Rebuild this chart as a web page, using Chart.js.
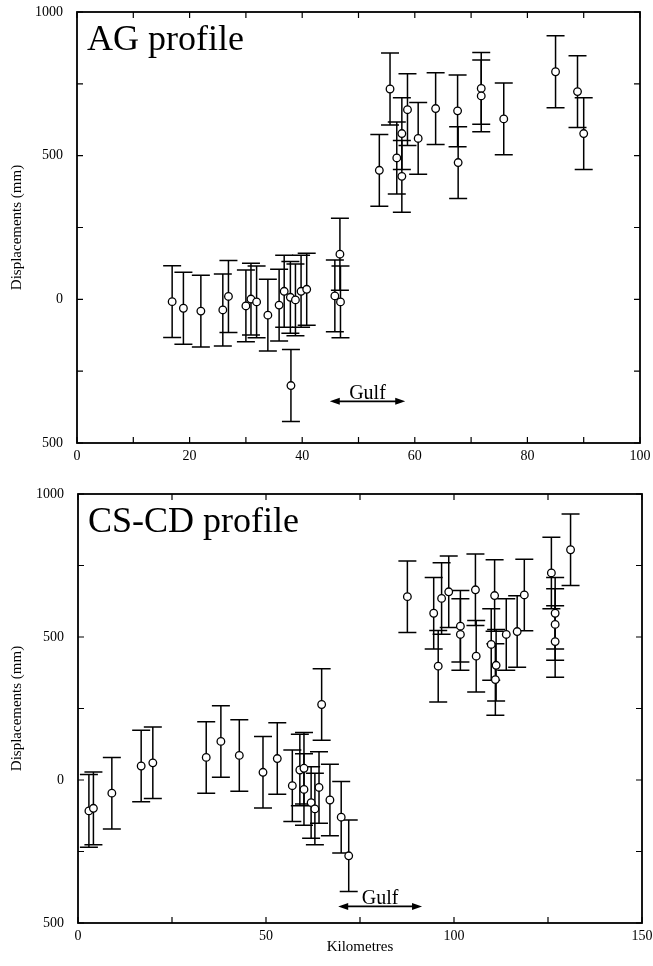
<!DOCTYPE html>
<html>
<head>
<meta charset="utf-8">
<script src="https://cdn.jsdelivr.net/npm/chart.js@4"></script>
<style>
  body { margin: 0; background: #fff; }
  #wrap { position: relative; width: 653px; height: 966px; }
  canvas { position: absolute; left: 0; }
  #agChart { top: 0; }
  #csChart { top: 480px; }
</style>
</head>
<body>
<div id="wrap">
  <canvas id="agChart" width="653" height="475"></canvas>
  <canvas id="csChart" width="653" height="486"></canvas>
</div>
<script>
// AG profile: distance (km), displacement (mm), error (mm)
const agKm = [16.9, 18.9, 22.0, 25.9, 26.9, 30.0, 30.9, 31.9, 33.9, 35.9,
  36.8, 37.9, 38.0, 38.8, 39.8, 40.8, 45.8, 46.8, 46.7, 53.7,
  55.6, 56.8, 57.7, 57.7, 58.7, 60.6, 63.7, 67.6, 67.7, 71.8,
  71.8, 75.8, 85.0, 88.9, 90.0];
const agDisp = [-8, -31, -41, -37, 10, -23, 1, -9, -55, -20,
  28, 7, -300, -2, 28, 35, 12, -9, 157, 449,
  732, 492, 577, 428, 660, 560, 664, 656, 476, 734,
  708, 628, 792, 723, 577];
const agErr = [125, 125, 125, 125, 125, 125, 125, 125, 125, 125,
  125, 125, 125, 125, 125, 125, 125, 125, 125, 125,
  125, 125, 125, 125, 125, 125, 125, 125, 125, 125,
  125, 125, 125, 125, 125];

// CS-CD profile
const csKm = [2.9, 4.1, 9.0, 16.8, 19.9, 34.1, 38.0, 42.9, 49.2, 53.0,
  57.0, 59.0, 60.1, 60.1, 62.0, 63.0, 64.1, 64.8, 67.0, 70.0,
  72.0, 87.6, 94.6, 95.8, 96.7, 98.6, 101.7, 101.7, 105.7, 105.9,
  109.9, 110.8, 111.2, 111.0, 113.9, 116.8, 118.7, 125.9, 126.9, 126.9,
  126.9, 131.0];
const csDisp = [-108, -99, -46, 49, 60, 79, 135, 86, 27, 75,
  -20, 35, 41, -33, -79, -101, -26, 264, -70, -130,
  -265, 641, 583, 398, 635, 658, 538, 509, 665, 433,
  474, 645, 401, 351, 509, 519, 647, 724, 583, 544,
  484, 805];
const csErr = [127, 127, 125, 125, 125, 125, 125, 125, 125, 125,
  125, 125, 125, 125, 125, 125, 125, 125, 125, 125,
  125, 125, 125, 125, 125, 125, 125, 125, 125, 125,
  125, 125, 125, 125, 125, 125, 125, 125, 125, 125,
  125, 125];

// tick labels
const yLabels = [-500, 0, 500, 1000];
const agXLabels = [0, 20, 40, 60, 80, 100];
const csXLabels = [0, 50, 100, 150];

// Gulf extent (km)
const agGulf = [44.9, 58.3];
const csGulf = [69.2, 91.5];

const SERIF = "'Liberation Serif', 'Times New Roman', serif";
const INK = "#000";

const decorPlugin = {
  id: "decor",
  beforeDatasetsDraw(chart, args, opts) {
    const { ctx, scales: { x, y } } = chart;
    const pts = chart.data.datasets[0].data;
    ctx.save();
    ctx.strokeStyle = INK;
    ctx.lineWidth = 1.5;
    pts.forEach((p, i) => {
      const px = x.getPixelForValue(p.x);
      const top = y.getPixelForValue(p.y + opts.err[i]);
      const bot = y.getPixelForValue(p.y - opts.err[i]);
      ctx.beginPath();
      ctx.moveTo(px, top);
      ctx.lineTo(px, bot);
      ctx.moveTo(px - 9, top);
      ctx.lineTo(px + 9, top);
      ctx.moveTo(px - 9, bot);
      ctx.lineTo(px + 9, bot);
      ctx.stroke();
    });
    ctx.restore();
  },
  afterDraw(chart, args, opts) {
    const { ctx, chartArea: a, scales: { x, y } } = chart;
    ctx.save();
    ctx.strokeStyle = INK;
    ctx.fillStyle = INK;
    ctx.lineWidth = 1.8;
    ctx.strokeRect(a.left, a.top, a.right - a.left, a.bottom - a.top);

    // inward ticks on all four sides
    ctx.lineWidth = 1.2;
    ctx.beginPath();
    x.ticks.forEach(t => {
      const px = x.getPixelForValue(t.value);
      ctx.moveTo(px, a.bottom); ctx.lineTo(px, a.bottom - 6);
      ctx.moveTo(px, a.top); ctx.lineTo(px, a.top + 6);
    });
    y.ticks.forEach(t => {
      const py = y.getPixelForValue(t.value);
      ctx.moveTo(a.left, py); ctx.lineTo(a.left + 6, py);
      ctx.moveTo(a.right, py); ctx.lineTo(a.right - 6, py);
    });
    ctx.stroke();

    // panel name
    ctx.font = "36px " + SERIF;
    ctx.textAlign = "left";
    ctx.textBaseline = "alphabetic";
    ctx.fillText(opts.label, a.left + 10, a.top + 38);

    // Gulf arrow
    const x1 = x.getPixelForValue(opts.gulf[0]);
    const x2 = x.getPixelForValue(opts.gulf[1]);
    const gy = y.getPixelForValue(opts.gulfY);
    ctx.lineWidth = 1.6;
    ctx.beginPath();
    ctx.moveTo(x1 + 4, gy);
    ctx.lineTo(x2 - 4, gy);
    ctx.stroke();
    ctx.beginPath();
    ctx.moveTo(x1, gy); ctx.lineTo(x1 + 10, gy - 3.5); ctx.lineTo(x1 + 10, gy + 3.5);
    ctx.closePath();
    ctx.moveTo(x2, gy); ctx.lineTo(x2 - 10, gy - 3.5); ctx.lineTo(x2 - 10, gy + 3.5);
    ctx.closePath();
    ctx.fill();
    ctx.font = "20px " + SERIF;
    ctx.textAlign = "center";
    ctx.fillText("Gulf", (x1 + x2) / 2, gy - 2);
    ctx.restore();
  }
};

function makeProfile(id, km, disp, err, cfg) {
  const tickFont = { family: SERIF, size: 14 };
  return new Chart(document.getElementById(id), {
    type: "scatter",
    data: {
      datasets: [{
        data: km.map((k, i) => ({ x: k, y: disp[i] })),
        pointRadius: 3.8,
        pointHoverRadius: 3.8,
        pointBackgroundColor: "#fff",
        pointBorderColor: INK,
        pointBorderWidth: 1.3
      }]
    },
    options: {
      responsive: false,
      animation: false,
      events: [],
      layout: { padding: { top: cfg.padTop, right: cfg.padRight, left: 0, bottom: 0 } },
      plugins: {
        legend: { display: false },
        tooltip: { enabled: false },
        decor: { err: err, label: cfg.label, gulf: cfg.gulf, gulfY: cfg.gulfY }
      },
      scales: {
        x: {
          type: "linear",
          min: 0,
          max: cfg.xMax,
          grid: { display: false, drawTicks: false },
          border: { display: false },
          ticks: {
            stepSize: cfg.xStep,
            autoSkip: false,
            maxRotation: 0,
            padding: 5,
            color: INK,
            font: tickFont,
            callback: v => (cfg.xLabels.includes(v) ? String(v) : "")
          },
          title: {
            display: !!cfg.xTitle,
            text: cfg.xTitle || "",
            color: INK,
            font: { family: SERIF, size: 15 },
            padding: { top: 0, bottom: 10 }
          },
          afterFit: s => {
            s.height = cfg.xAxisH;
            s.paddingLeft = 0;
            s.paddingRight = 0;
          }
        },
        y: {
          type: "linear",
          min: -500,
          max: 1000,
          grid: { display: false, drawTicks: false },
          border: { display: false },
          ticks: {
            stepSize: 250,
            autoSkip: false,
            padding: 14,
            color: INK,
            font: tickFont,
            callback: v => (yLabels.includes(v) ? String(Math.abs(v)) : "")
          },
          title: {
            display: true,
            text: "Displacements (mm)",
            color: INK,
            font: { family: SERIF, size: 15 },
            padding: { top: 8, bottom: 0 }
          },
          afterFit: s => {
            s.width = cfg.yAxisW;
            s.paddingTop = 0;
            s.paddingBottom = 0;
          }
        }
      }
    },
    plugins: [decorPlugin]
  });
}

makeProfile("agChart", agKm, agDisp, agErr, {
  label: "AG profile",
  xMax: 100, xStep: 10, xLabels: agXLabels,
  gulf: agGulf, gulfY: -355,
  padTop: 12, padRight: 13, yAxisW: 77, xAxisH: 32
});

makeProfile("csChart", csKm, csDisp, csErr, {
  label: "CS-CD profile",
  xMax: 150, xStep: 25, xLabels: csXLabels,
  xTitle: "Kilometres",
  gulf: csGulf, gulfY: -442,
  padTop: 14, padRight: 11, yAxisW: 78, xAxisH: 43
});
</script>
</body>
</html>
